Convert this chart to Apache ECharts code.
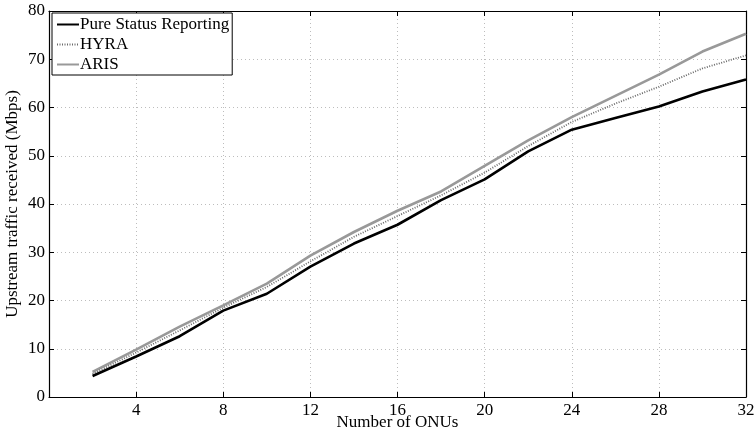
<!DOCTYPE html>
<html>
<head>
<meta charset="utf-8">
<script src="https://cdn.jsdelivr.net/npm/echarts@6/dist/echarts.min.js"></script>
<style>
  html, body { margin: 0; padding: 0; background: #fff; }
  #chart { width: 755px; height: 435px; }
</style>
</head>
<body>
<div id="chart"></div>
<script>
// Number of ONUs on the x axis
const onus = [2, 4, 6, 8, 10, 12, 14, 16, 18, 20, 22, 24, 26, 28, 30, 32];

// Received upstream traffic (Mbps) per scheme
const pureStatus = [4.35, 8.4, 12.6, 17.9, 21.4, 27.0, 31.8, 35.7, 40.8, 45.1, 50.9, 55.4, 57.8, 60.2, 63.3, 65.8];
const hyra       = [4.8, 9.2, 13.8, 18.5, 22.8, 28.1, 33.2, 37.5, 41.8, 46.5, 52.0, 57.0, 60.8, 64.3, 68.1, 70.8];
const aris       = [5.2, 9.8, 14.6, 19.0, 23.5, 29.3, 34.2, 38.6, 42.6, 47.9, 53.2, 58.0, 62.4, 66.8, 71.6, 75.3];

const xTicks = { min: 0, max: 32, interval: 4 };
const yTicks = { min: 0, max: 80, interval: 10 };

const font = 'Liberation Serif';
const pairs = (ys) => onus.map((x, i) => [x, ys[i]]);

const chart = echarts.init(document.getElementById('chart'));

const frameLine = { show: true, onZero: false, lineStyle: { color: '#000', width: 1.2 } };
const gridLine = { show: true, lineStyle: { color: '#bdbdbd', type: [1, 3], width: 1 } };
const tick = { show: true, inside: true, length: 5, lineStyle: { color: '#000' } };

chart.setOption({
  animation: false,
  backgroundColor: '#fff',
  grid: { left: 49, right: 9, top: 11, bottom: 38, containLabel: false, outerBoundsMode: 'none' },
  legend: {
    left: 52,
    top: 13,
    orient: 'vertical',
    backgroundColor: '#fff',
    borderColor: '#000',
    borderWidth: 1,
    borderRadius: 0,
    padding: [3, 3, 2, 4],
    itemGap: 3,
    itemWidth: 22,
    itemHeight: 15,
    itemStyle: { opacity: 0 },
    textStyle: { fontFamily: font, fontSize: 17, color: '#000', padding: [0, 0, 0, -4] },
    data: ['Pure Status Reporting', 'HYRA', 'ARIS']
  },
  xAxis: [
    {
      type: 'value', ...xTicks, position: 'bottom',
      name: 'Number of ONUs', nameLocation: 'middle', nameGap: 17, nameMoveOverlap: false,
      nameTextStyle: { fontFamily: font, fontSize: 17, color: '#000' },
      axisLine: frameLine,
      axisTick: tick,
      axisLabel: { fontFamily: font, fontSize: 17, color: '#000', margin: 5,
        formatter: (v) => (v === 0 ? '' : String(v)) },
      splitLine: gridLine
    },
    {
      type: 'value', ...xTicks, position: 'top',
      axisLine: frameLine,
      axisTick: tick,
      axisLabel: { show: false },
      splitLine: { show: false }
    }
  ],
  yAxis: [
    {
      type: 'value', ...yTicks, position: 'left',
      name: 'Upstream traffic received (Mbps)', nameLocation: 'middle', nameGap: 28, nameMoveOverlap: false,
      nameTextStyle: { fontFamily: font, fontSize: 17, color: '#000' },
      axisLine: frameLine,
      axisTick: tick,
      axisLabel: { fontFamily: font, fontSize: 17, color: '#000', margin: 4 },
      splitLine: gridLine
    },
    {
      type: 'value', ...yTicks, position: 'right',
      axisLine: frameLine,
      axisTick: tick,
      axisLabel: { show: false },
      splitLine: { show: false }
    }
  ],
  series: [
    {
      name: 'ARIS', type: 'line', data: pairs(aris), showSymbol: false, symbol: 'none',
      itemStyle: { color: '#999' },
      lineStyle: { color: '#999', width: 2.6 }, z: 3
    },
    {
      name: 'HYRA', type: 'line', data: pairs(hyra), showSymbol: false, symbol: 'none',
      itemStyle: { color: '#6a6a6a' },
      lineStyle: { color: '#6a6a6a', width: 1.8, type: [1, 1.5] }, z: 4
    },
    {
      name: 'Pure Status Reporting', type: 'line', data: pairs(pureStatus), showSymbol: false, symbol: 'none',
      itemStyle: { color: '#000' },
      lineStyle: { color: '#000', width: 2.6 }, z: 5
    }
  ]
});
</script>
</body>
</html>
